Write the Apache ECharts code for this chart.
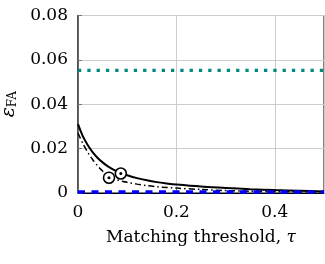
<!DOCTYPE html>
<html><head><meta charset="utf-8">
<script src="https://cdn.jsdelivr.net/npm/echarts@6/dist/echarts.min.js"></script>
<style>html,body{margin:0;padding:0;background:#fff}#c{width:325px;height:264px}</style>
</head><body><div id="c"></div>
<script>
const tau = [0,0.01,0.02,0.03,0.04,0.05,0.06,0.07,0.08,0.09,0.1,0.12,0.14,0.16,0.18,0.2,0.25,0.3,0.35,0.4,0.45,0.5];
const solidFA = [0.031,0.0255,0.0215,0.0183,0.0158,0.0138,0.0121,0.0108,0.0097,0.0088,0.0080,0.0067,0.0057,0.0049,0.0043,0.0038,0.0029,0.0023,0.0017,0.0013,0.0010,0.0007];
const dashDotFA = [0.027,0.0222,0.0183,0.0150,0.0122,0.0099,0.0080,0.0067,0.0059,0.0053,0.0048,0.0040,0.0033,0.0028,0.0025,0.0022,0.0016,0.0011,0.0008,0.0006,0.0005,0.0004];
const tealTau = [0, 0.5];
const tealFA = [0.0553, 0.0553];
const blueTau = [0, 0.5];
const blueFA = [0.0004, 0.0004];
const solidMarker = [0.087, 0.0088];
const dashDotMarker = [0.063, 0.0069];
const yTicks = [0, 0.02, 0.04, 0.06, 0.08];
const xTicks = [0, 0.2, 0.4];

const FONT = 'DejaVu Serif';
const pair = (xs, ys) => xs.map((x, i) => [x, ys[i]]);

const markerSeries = (pt) => [
  {type: 'line', data: [pt], symbol: 'circle', symbolSize: 11, showSymbol: true, z: 6,
   lineStyle: {width: 0}, itemStyle: {color: '#fff', borderColor: '#000', borderWidth: 1.6}},
  {type: 'line', data: [pt], symbol: 'circle', symbolSize: 3, showSymbol: true, z: 7,
   lineStyle: {width: 0}, itemStyle: {color: '#000', borderWidth: 0}}
];

const chart = echarts.init(document.getElementById('c'), null, {renderer: 'canvas'});
chart.setOption({
  animation: false,
  grid: {left: 78, right: 1, top: 15.5, bottom: 71, outerBoundsMode: 'none', containLabel: false,
         show: true, borderColor: '#000', borderWidth: 1, backgroundColor: 'transparent'},
  xAxis: {
    type: 'value', min: 0, max: 0.5, interval: 0.2,
    name: 'Matching threshold, {t|τ}', nameLocation: 'middle', nameGap: 36,
    nameTextStyle: {fontFamily: FONT, fontSize: 17, color: '#000',
      rich: {t: {fontFamily: FONT, fontSize: 17, fontStyle: 'italic', color: '#000'}}},
    axisLine: {show: true, onZero: false, lineStyle: {color: '#000', width: 1}},
    axisTick: {show: true, inside: true, length: 4, lineStyle: {color: '#777'}},
    splitLine: {show: true, lineStyle: {color: '#cccccc', width: 1}},
    axisLabel: {fontFamily: FONT, fontSize: 17, color: '#000', margin: 11, showMaxLabel: false,
      formatter: v => xTicks.some(t => Math.abs(t - v) < 1e-9) ? (v === 0 ? '0' : v.toFixed(1)) : ''}
  },
  yAxis: {
    type: 'value', min: 0, max: 0.08, interval: 0.02,
    name: '{e|ε}{s|FA}', nameLocation: 'middle', nameGap: 50, nameRotate: 90,
    nameTextStyle: {fontFamily: FONT, fontSize: 17, color: '#000',
      rich: {e: {fontFamily: FONT, fontSize: 19, fontStyle: 'italic', color: '#000'},
             s: {fontFamily: FONT, fontSize: 12, color: '#000', padding: [8, 0, 0, 0]}}},
    axisLine: {show: true, lineStyle: {color: '#444', width: 1.5}},
    axisTick: {show: true, inside: true, length: 4, lineStyle: {color: '#777'}},
    splitLine: {show: true, lineStyle: {color: '#cccccc', width: 1}},
    axisLabel: {fontFamily: FONT, fontSize: 17, color: '#000', margin: 10,
      formatter: v => v === 0 ? '0' : v.toFixed(2)}
  },
  series: [
    {type: 'line', data: pair(tealTau, tealFA), symbol: 'none', z: 3,
     lineStyle: {color: '#008b80', width: 3.3, type: [3.3, 6], cap: 'butt'}},
    {type: 'line', data: pair(tau, solidFA), symbol: 'none', smooth: 0.3, z: 4,
     lineStyle: {color: '#000', width: 2}},
    {type: 'line', data: pair(tau, dashDotFA), symbol: 'none', smooth: 0.3, z: 4,
     lineStyle: {color: '#000', width: 1.5, type: [6, 3, 1.5, 3], cap: 'butt'}},
    {type: 'line', data: pair(blueTau, blueFA), symbol: 'none', z: 5,
     lineStyle: {color: '#0000ff', width: 3.5, type: [7, 6.5], cap: 'butt'}},
    ...markerSeries(solidMarker),
    ...markerSeries(dashDotMarker)
  ]
});
</script></body></html>
